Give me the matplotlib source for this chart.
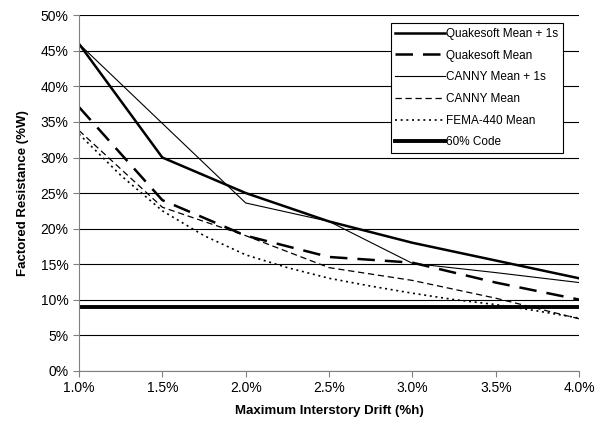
import matplotlib.pyplot as plt
from matplotlib.ticker import FuncFormatter

plt.rcParams['font.family'] = ['Liberation Sans', 'DejaVu Sans']

# drift values (%h)
drift = [1.0, 1.5, 2.0, 2.5, 3.0, 3.5, 4.0]
fema_drift = [1.0, 1.25, 1.5, 1.75, 2.0, 2.25, 2.5, 2.75, 3.0, 3.25, 3.5, 3.75, 4.0]

# factored resistance (%W)
quake_mean_1s = [46.0, 30.0, 25.0, 21.0, 18.0, 15.5, 13.0]
quake_mean = [37.1, 24.0, 19.0, 16.0, 15.2, 12.4, 10.0]
canny_mean_1s = [46.0, 34.8, 23.6, 21.0, 15.1, 13.8, 12.4]
canny_mean = [33.8, 23.0, 19.0, 14.5, 12.7, 10.2, 7.3]
fema_mean = [33.3, 27.5, 22.5, 19.0, 16.3, 14.5, 13.0, 11.9, 10.9, 10.0, 9.3, 8.4, 7.4]
code_60 = [9.0, 9.0, 9.0, 9.0, 9.0, 9.0, 9.0]

fig = plt.figure(figsize=(5.97, 4.28), dpi=100)
ax = fig.add_axes([0.1323, 0.134, 0.8377, 0.830])

ax.plot(drift, quake_mean_1s, color='black', lw=1.8, label='Quakesoft Mean + 1s')
ax.plot(drift, quake_mean, color='black', lw=1.8, dashes=(7, 4), label='Quakesoft Mean')
ax.plot(drift, canny_mean_1s, color='black', lw=0.8, label='CANNY Mean + 1s')
ax.plot(drift, canny_mean, color='black', lw=0.9, dashes=(5, 3), label='CANNY Mean')
ax.plot(fema_drift, fema_mean, color='black', lw=1.2, dashes=(1.2, 2.2), label='FEMA-440 Mean')
ax.plot(drift, code_60, color='black', lw=2.8, label='60% Code')

ax.set_xlim(1.0, 4.0)
ax.set_ylim(0, 50)
ax.set_xticks(drift)
ax.set_yticks(range(0, 51, 5))
ax.xaxis.set_major_formatter(FuncFormatter(lambda v, p: f'{v:.1f}%'))
ax.yaxis.set_major_formatter(FuncFormatter(lambda v, p: f'{v:.0f}%'))
ax.grid(axis='y', color='black', lw=0.8)
ax.set_axisbelow(True)

for s in ['top', 'right']:
    ax.spines[s].set_visible(False)
for s in ['left', 'bottom']:
    ax.spines[s].set_color('#808080')
ax.tick_params(axis='both', colors='#808080', labelcolor='black', labelsize=10, length=4)

ax.set_xlabel('Maximum Interstory Drift (%h)', fontsize=9.5, fontweight='bold', labelpad=7)
ax.set_ylabel('Factored Resistance (%W)', fontsize=9.5, fontweight='bold', labelpad=8)

leg = ax.legend(loc='upper right', bbox_to_anchor=(0.968, 0.978), borderaxespad=0,
                fontsize=8.5, handlelength=4.2, handletextpad=0.1, labelspacing=0.82,
                fancybox=False, framealpha=1, edgecolor='black', borderpad=0.4)
leg.get_frame().set_linewidth(0.8)

plt.savefig('out.png', dpi=100)
